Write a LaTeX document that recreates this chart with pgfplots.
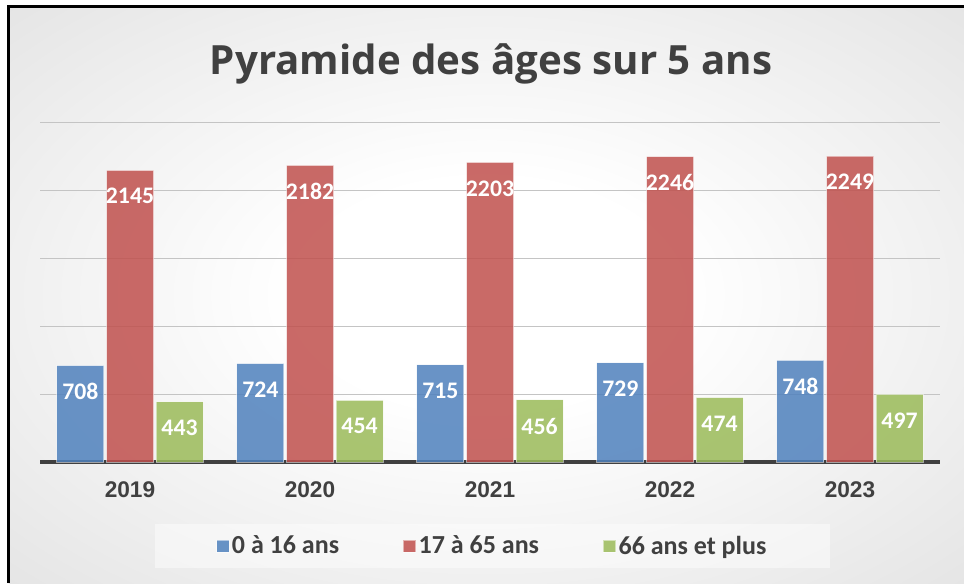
\documentclass[border=0pt]{standalone}
\usepackage{pgfplots}
\pgfplotsset{compat=1.18}
\usepackage{fontspec}
\setmainfont{Liberation Sans}
\newfontfamily\titlefont{Open Sans}
\newfontfamily\calfont{Carlito}
\definecolor{txt}{HTML}{404040}
\definecolor{cblue}{HTML}{4F81BD}
\definecolor{cred}{HTML}{C0504D}
\definecolor{cgreen}{HTML}{9BBB59}
\definecolor{gridlight}{HTML}{C4C4C4}
\definecolor{griddark}{HTML}{8C8C8C}
\pgfdeclareradialshading{bgshade}{\pgfpoint{0bp}{0bp}}{color(0bp)=(white); color(10bp)=(white); color(50bp)=(black!16); color(71bp)=(black!26)}
\begin{document}
\begin{tikzpicture}[x=0.75pt,y=0.75pt]
\useasboundingbox (0,0) rectangle (964,583);
\fill[white] (0,0) rectangle (964,583);
\shade[shading=bgshade] (8.5,0) rectangle (964,576.5);
\draw[line width=2.4pt, black] (8.5,0) -- (8.5,576.5) -- (964,576.5);
\node[font=\titlefont\bfseries\fontsize{30.2}{36}\selectfont, text=txt, anchor=base] at (491,508) {Pyramide des âges sur 5 ans};
\begin{axis}[
  at={(30pt,90.75pt)}, anchor=south west,
  scale only axis, width=675pt, height=255pt,
  ybar=1.9pt, bar width=35.25pt,
  xmin=-0.5, xmax=4.5, ymin=0, ymax=2500,
  xtick={0,1,2,3,4}, xticklabels={2019,2020,2021,2022,2023},
  major tick length=0,
  axis x line*=bottom, axis y line*=left,
  x axis line style={line width=2.4pt, color=txt, -},
  y axis line style={draw=none},
  ytick={1000,1500,2000,2500}, yticklabels={},
  ymajorgrids, y grid style={color=gridlight, line width=0.75pt},
  extra y ticks={500}, extra y tick labels={},
  extra y tick style={grid=major, major grid style={color=griddark, line width=0.75pt}},
  xticklabel style={font=\bfseries\fontsize{17}{20}\selectfont, text=txt, yshift=-11.5pt},
  nodes near coords={\pgfmathprintnumber[assume math mode=true, 1000 sep={}]{\pgfplotspointmeta}},
  every node near coord/.append style={font=\calfont\bfseries\fontsize{17.8}{20}\selectfont, text=white, text opacity=1, anchor=center, yshift=-19.5pt},
  legend style={at={(0.503,-0.247)}, anchor=center, legend columns=3, fill=white, fill opacity=0.45, text opacity=1, draw=none, inner xsep=46pt, inner ysep=7pt, font=\calfont\bfseries\fontsize{19.5}{22}\selectfont, text=txt, /tikz/every even column/.append style={column sep=46pt}},
  legend image code/.code={\draw[#1, line width=0.5pt] (0pt,-4.6pt) rectangle (9.2pt,4.6pt);},
]
\addplot[fill=cblue, fill opacity=0.85, draw=white, draw opacity=0.5, line width=0.75pt] coordinates {(0,708) (1,724) (2,715) (3,729) (4,748)};
\addplot[fill=cred, fill opacity=0.85, draw=white, draw opacity=0.5, line width=0.75pt] coordinates {(0,2145) (1,2182) (2,2203) (3,2246) (4,2249)};
\addplot[fill=cgreen, fill opacity=0.85, draw=white, draw opacity=0.5, line width=0.75pt] coordinates {(0,443) (1,454) (2,456) (3,474) (4,497)};
\legend{0 à 16 ans, 17 à 65 ans, 66 ans et plus}
\end{axis}
\end{tikzpicture}
\end{document}
